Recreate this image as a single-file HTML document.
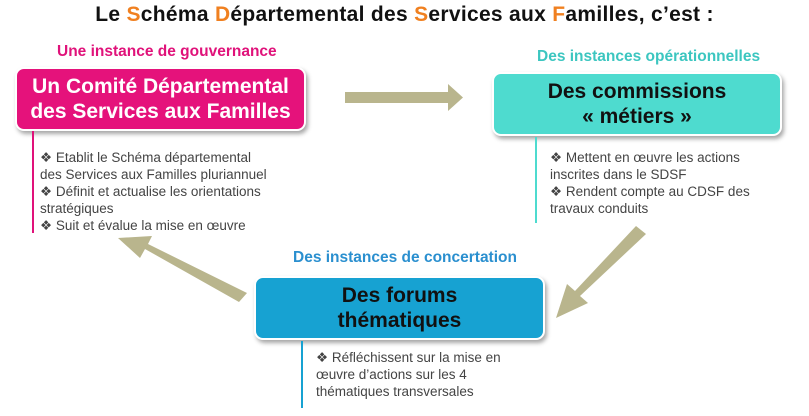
<!DOCTYPE html>
<html><head><meta charset="utf-8"><style>
body{margin:0;width:809px;height:416px;background:#fff;position:relative;overflow:hidden;font-family:"Liberation Sans","DejaVu Sans",sans-serif}
.a{position:absolute}
.t{left:0;width:809px;top:3px;text-align:center;font-weight:bold;font-size:21px;color:#111;letter-spacing:0.3px}
.o{color:#f08020}
.lab{font-weight:bold;font-size:15.5px;white-space:nowrap}
.box{border-radius:9px;box-shadow:2px 3px 4px rgba(0,0,0,.35);text-align:center;font-weight:bold;font-size:21px;line-height:25px;display:flex;align-items:center;justify-content:center;border:2px solid #fff}
.bl{font-size:13.5px;line-height:17px;color:#444;white-space:nowrap}
.v{width:2px}
</style></head><body>
<div class="a t">Le <span class="o">S</span>chéma <span class="o">D</span>épartemental des <span class="o">S</span>ervices aux <span class="o">F</span>amilles, c’est :</div>
<svg class="a" style="left:0;top:0" width="809" height="416">
<g fill="#b9b58d">
<polygon points="345,92 448,92 448,84 463,97.5 448,111 448,103 345,103"/>
<polygon points="646,234 636,226 575,291 567,284 556,318 588,303 580,296"/>
<polygon points="247,293 239,302 145,249 140,258 118,238 152,236 148,244"/>
</g></svg>
<div class="a lab" style="left:57px;top:43px;color:#e0127a">Une instance de gouvernance</div>
<div class="a box" style="left:15px;top:67px;width:287px;height:60px;background:#e5127b;color:#fff">Un Comité Départemental<br>des Services aux Familles</div>
<div class="a v" style="left:32px;top:131px;height:102px;background:#e0127a"></div>
<div class="a bl" style="left:40px;top:149px;width:250px">❖ Etablit le Schéma départemental<br>des Services aux Familles pluriannuel<br>❖ Définit et actualise les orientations<br>stratégiques<br>❖ Suit et évalue la mise en œuvre</div>
<div class="a lab" style="left:537px;top:48px;color:#3cc6c0">Des instances opérationnelles</div>
<div class="a box" style="left:492px;top:72px;width:286px;height:60px;background:#4edbcf;color:#111">Des commissions<br>« métiers »</div>
<div class="a v" style="left:535px;top:137px;height:86px;background:#4edbcf"></div>
<div class="a bl" style="left:550px;top:149px;width:240px">❖ Mettent en œuvre les actions<br>inscrites dans le SDSF<br>❖ Rendent compte au CDSF des<br>travaux conduits</div>
<div class="a lab" style="left:293px;top:249px;color:#2a8fcf">Des instances de concertation</div>
<div class="a box" style="left:254px;top:276px;width:287px;height:60px;background:#17a2d2;color:#111">Des forums<br>thématiques</div>
<div class="a v" style="left:301px;top:341px;height:67px;background:#17a2d2"></div>
<div class="a bl" style="left:316px;top:349px;width:230px">❖ Réfléchissent sur la mise en<br>œuvre d’actions sur les 4<br>thématiques transversales</div>
</body></html>
